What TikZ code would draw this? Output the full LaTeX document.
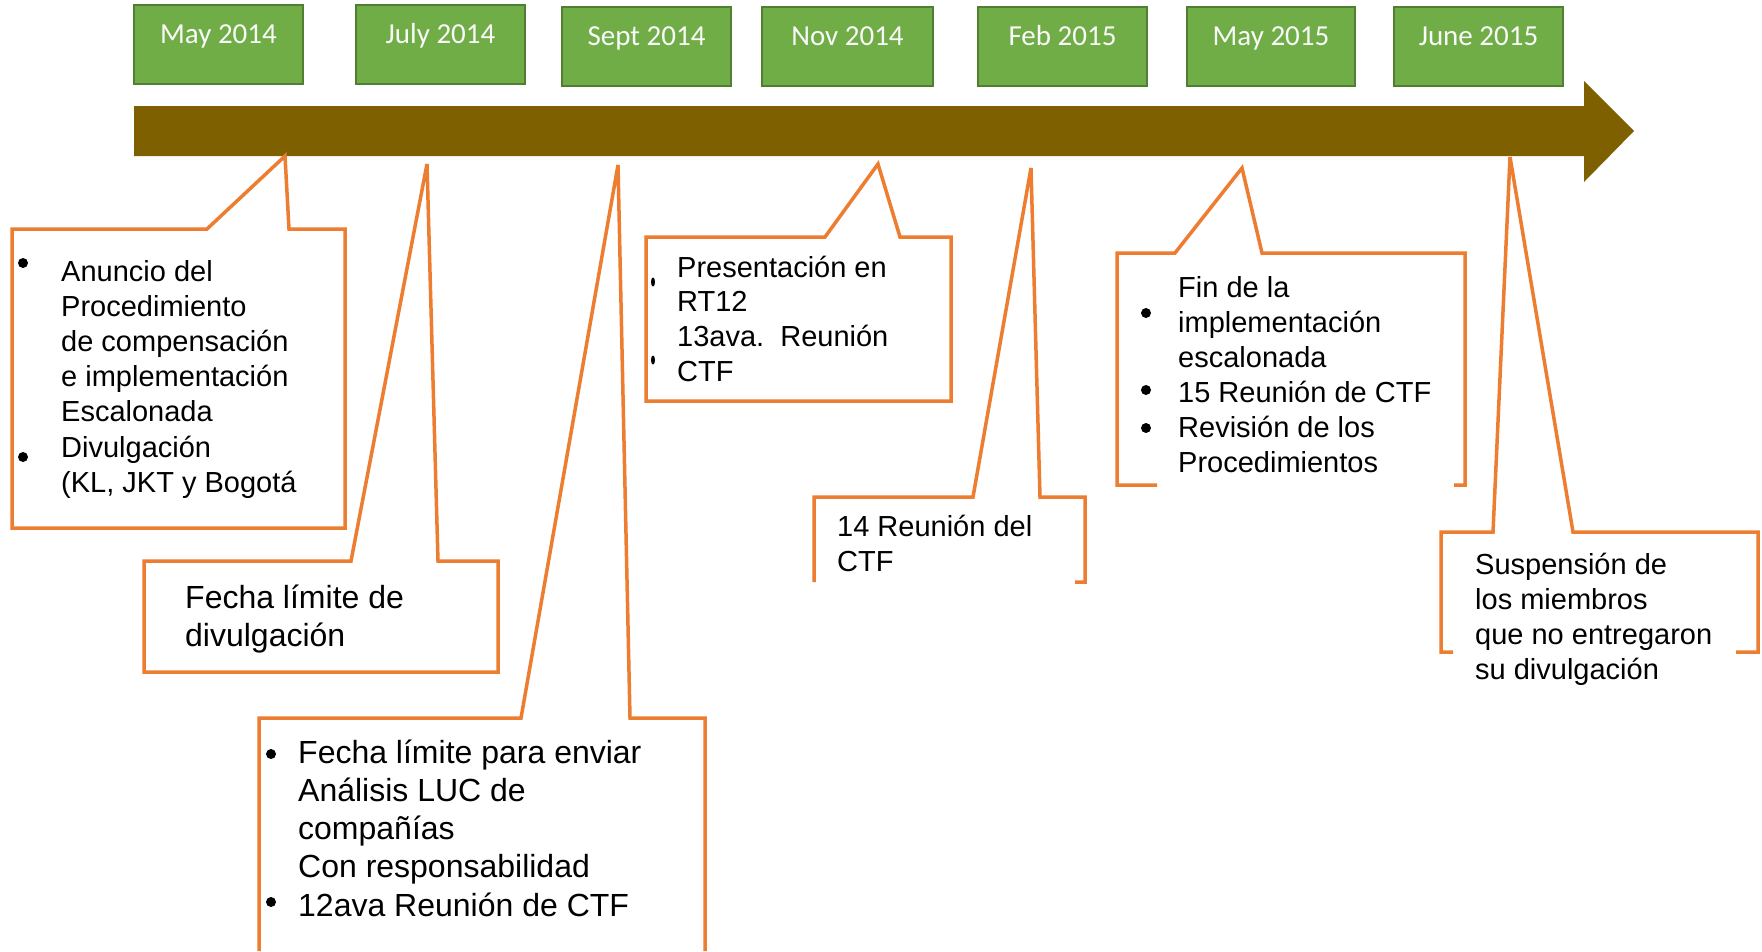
\documentclass[tikz,border=0pt]{standalone}
\usepackage{fontspec}
\setmainfont{Liberation Sans}
\newfontfamily\datefont{Carlito}
\definecolor{arrowbrown}{HTML}{7F6000}
\definecolor{boxgreen}{HTML}{70AD47}
\definecolor{boxedge}{HTML}{507E32}
\definecolor{calloutorange}{HTML}{ED7D31}
\newcommand\txtlines[6]{% #1 name, #2 style, #3 x, #4 first baseline, #5 spacing, #6 list
  \foreach \l [count=\i from 0] in {#6}{%
    \node[#2, anchor=base west] (#1-\i) at (#3, {#4+\i*#5}) {\l};}}
\begin{document}
\begin{tikzpicture}[x=1pt,y=-1pt,
  datebox/.style={draw=boxedge, line width=2.5pt, fill=boxgreen, inner sep=0pt},
  datetxt/.style={text=white!95!gray, font=\datefont\fontsize{29}{34}\selectfont, inner sep=0pt, anchor=base},
  callout/.style={draw=calloutorange, line width=3.5pt, line join=miter, miter limit=6},
  txt/.style={inner sep=0pt, font=\fontsize{29}{35}\selectfont},
  txtL/.style={inner sep=0pt, font=\fontsize{32}{38}\selectfont},
  bullet/.style={fill=black}]
\useasboundingbox (0,0) rectangle (1762,951);
\fill[white] (0,0) rectangle (1762,951);

% timeline arrow
\fill[arrowbrown] (134,106) -- (1584,106) -- (1584,81) -- (1634,131) -- (1584,182) -- (1584,156) -- (134,156) -- cycle;

% date boxes
\foreach \nm/\xa/\xb/\ya/\yb/\lab in {
  d1/134/303/5/84/May 2014,
  d2/356/525/5/84/July 2014,
  d3/562/731/7/86/Sept 2014,
  d4/762/933/7/86/Nov 2014,
  d5/978/1147/7/86/Feb 2015,
  d6/1187/1355/7/86/May 2015,
  d7/1394/1563/7/86/June 2015}{
  \draw[datebox] (\xa,\ya) rectangle (\xb,\yb);
  \node[datetxt] (\nm) at ({(\xa+\xb)/2}, {\ya+38}) {\lab};
}

% callouts
\draw[callout] (12,229) -- (207,229) -- (285,156) -- (289,229) -- (345,229) -- (345,528) -- (12,528) -- cycle;
\draw[callout] (144,561) -- (351,561) -- (427,164) -- (438,561) -- (498,561) -- (498,672) -- (144,672) -- cycle;
\draw[callout] (259,951) -- (259,718) -- (521,718) -- (618,165) -- (630,718) -- (705,718) -- (705,951);
\draw[callout] (646,237) -- (825,237) -- (878,164) -- (900,237) -- (951,237) -- (951,401) -- (646,401) -- cycle;
\draw[callout] (814,582) -- (814,497) -- (973,497) -- (1031,168) -- (1040,497) -- (1085,497) -- (1085,582) -- (1075,582);
\draw[callout] (1157,485) -- (1117,485) -- (1117,253) -- (1175,253) -- (1242,168) -- (1262,253) -- (1465,253) -- (1465,485) -- (1454,485);
\draw[callout] (1453,652) -- (1441,652) -- (1441,532) -- (1493,532) -- (1510,157) -- (1573,532) -- (1758,532) -- (1758,652) -- (1736,652);

% texts
\txtlines{c1}{txt}{61}{281}{35.2}{Anuncio del, Procedimiento, de compensación, e implementación, Escalonada, Divulgación, {(KL, JKT y Bogotá}}
\fill[bullet] (23,263) circle (5);
\fill[bullet] (23,457) circle (5);

\txtlines{c2}{txtL}{185}{608}{38}{Fecha límite de, divulgación}

\txtlines{c3}{txtL}{298}{763}{38.3}{Fecha límite para enviar, Análisis LUC de, compañías, Con responsabilidad, 12ava Reunión de CTF}
\fill[bullet] (271,754) circle (5);
\fill[bullet] (271,902) circle (5);

\txtlines{c4}{txt}{677}{277}{34.7}{Presentación en, RT12, 13ava.~~Reunión, CTF}
\fill[bullet] (653,282) ellipse (2 and 4.5);
\fill[bullet] (653,360) ellipse (2 and 4.5);

\txtlines{c5}{txt}{837}{536}{35}{14 Reunión del, CTF}

\txtlines{c6}{txt}{1178}{297}{35}{Fin de la, implementación, escalonada, 15 Reunión de CTF, Revisión de los, Procedimientos}
\fill[bullet] (1146,313) circle (5);
\fill[bullet] (1146,390) circle (5);
\fill[bullet] (1146,428) circle (5);

\txtlines{c7}{txt}{1475}{574}{35}{Suspensión de, los miembros, que no entregaron, su divulgación}
\end{tikzpicture}
\end{document}
